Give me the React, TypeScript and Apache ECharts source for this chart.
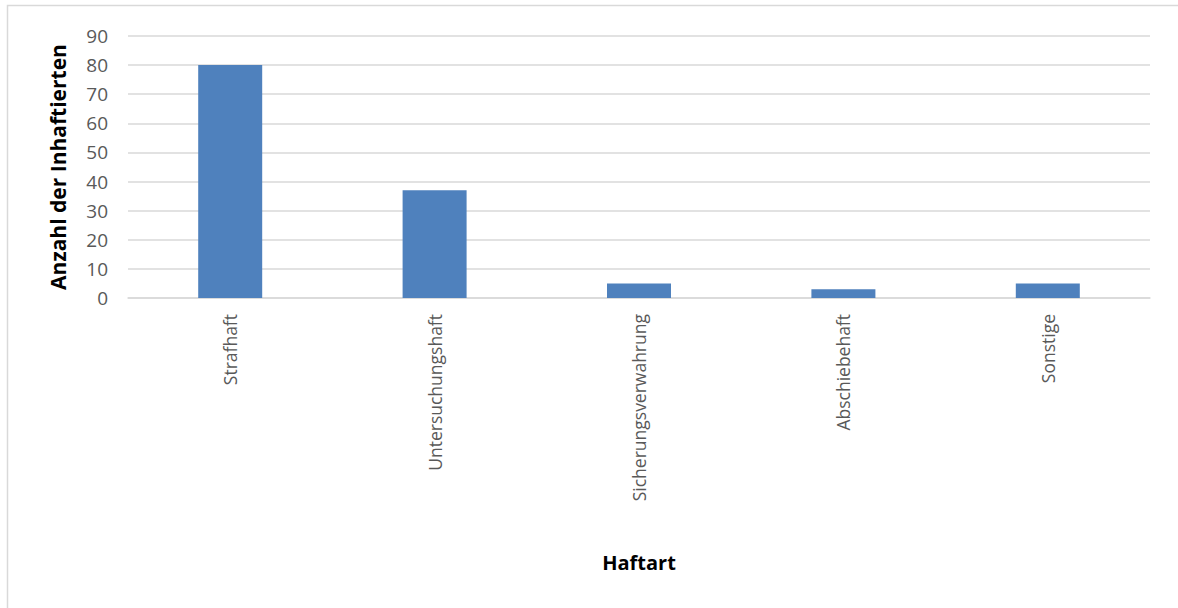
import React, { useEffect, useRef } from "react";
import * as echarts from "echarts";

const categories = ["Strafhaft", "Untersuchungshaft", "Sicherungsverwahrung", "Abschiebehaft", "Sonstige"];
const values = [80, 37, 5, 3, 5];

export default function App() {
  const ref = useRef<HTMLDivElement>(null);
  useEffect(() => {
    const chart = echarts.init(ref.current!, null, { renderer: "svg" });
    const font = "'Open Sans', 'Noto Sans', sans-serif";
    chart.setOption({
      animation: false,
      backgroundColor: "#ffffff",
      graphic: [
        {
          type: "rect",
          shape: { x: 7.5, y: 5.5, width: 1300, height: 800 },
          style: { fill: "none", stroke: "#d9d9d9", lineWidth: 1.5 },
          silent: true,
        },
      ],
      grid: { left: 128, right: 28, top: 36, bottom: 310, containLabel: false },
      xAxis: {
        type: "category",
        data: categories,
        name: "Haftart",
        nameLocation: "middle",
        nameGap: 254,
        nameTextStyle: { fontFamily: font, fontSize: 20, fontWeight: "bold", color: "#000" },
        axisLine: { show: true, lineStyle: { color: "#d9d9d9", width: 1.5 } },
        axisTick: { show: false },
        axisLabel: { rotate: 90, margin: 16, fontFamily: font, fontSize: 17.5, color: "#595959" },
      },
      yAxis: {
        type: "value",
        min: 0,
        max: 90,
        interval: 10,
        name: "Anzahl der Inhaftierten",
        nameLocation: "middle",
        nameRotate: 90,
        nameGap: 60,
        nameTextStyle: { fontFamily: font, fontSize: 21, fontWeight: "bold", color: "#000" },
        axisLine: { show: false },
        axisTick: { show: false },
        axisLabel: { margin: 20, fontFamily: font, fontSize: 19, color: "#595959" },
        splitLine: { lineStyle: { color: "#d9d9d9", width: 1.5 } },
      },
      series: [
        {
          type: "bar",
          data: values,
          barWidth: 64,
          itemStyle: { color: "#4f81bd" },
        },
      ],
    });
    return () => chart.dispose();
  }, []);
  return (
    <div
      ref={ref}
      style={{ position: "fixed", left: 0, top: 0, width: 1178, height: 608 }}
    />
  );
}
